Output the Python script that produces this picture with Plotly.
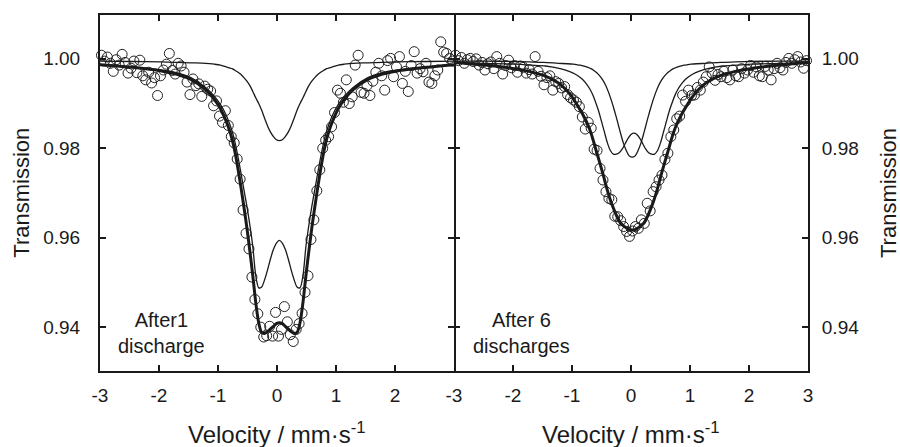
import plotly.graph_objects as go

FONT = "Liberation Sans, Arial, Helvetica, sans-serif"
INK = "#1a1a1a"

# ---------------- measured spectra (velocity channels, transmission) ----------------
velocity = [
    -2.975, -2.925, -2.875, -2.825, -2.775, -2.725, -2.675, -2.625, -2.575, -2.525,
    -2.475, -2.425, -2.375, -2.325, -2.275, -2.225, -2.175, -2.125, -2.075, -2.025,
    -1.975, -1.925, -1.875, -1.825, -1.775, -1.725, -1.675, -1.625, -1.575, -1.525,
    -1.475, -1.425, -1.375, -1.325, -1.275, -1.225, -1.175, -1.125, -1.075, -1.025,
    -0.975, -0.925, -0.875, -0.825, -0.775, -0.725, -0.675, -0.625, -0.575, -0.525,
    -0.475, -0.425, -0.375, -0.325, -0.275, -0.225, -0.175, -0.125, -0.075, -0.025,
    0.025, 0.075, 0.125, 0.175, 0.225, 0.275, 0.325, 0.375, 0.425, 0.475,
    0.525, 0.575, 0.625, 0.675, 0.725, 0.775, 0.825, 0.875, 0.925, 0.975,
    1.025, 1.075, 1.125, 1.175, 1.225, 1.275, 1.325, 1.375, 1.425, 1.475,
    1.525, 1.575, 1.625, 1.675, 1.725, 1.775, 1.825, 1.875, 1.925, 1.975,
    2.025, 2.075, 2.125, 2.175, 2.225, 2.275, 2.325, 2.375, 2.425, 2.475,
    2.525, 2.575, 2.625, 2.675, 2.725, 2.775, 2.825, 2.875, 2.925, 2.975,
]

data_after1 = [
    1.0008, 0.9995, 1.0004, 0.9990, 0.9972, 0.9998, 0.9986, 1.0010, 0.9992, 0.9968,
    0.9979, 0.9995, 0.9969, 0.9997, 0.9962, 0.9953, 0.9970, 0.9946, 0.9958, 0.9918,
    0.9962, 0.9975, 0.9988, 1.0012, 0.9974, 0.9966, 0.9990, 0.9984, 0.9970, 0.9948,
    0.9920, 0.9955, 0.9940, 0.9944, 0.9916, 0.9939, 0.9932, 0.9928, 0.9895, 0.9906,
    0.9872, 0.9858, 0.9884, 0.9851, 0.9826, 0.9812, 0.9776, 0.9731, 0.9662, 0.9610,
    0.9575, 0.9512, 0.9462, 0.9430, 0.9400, 0.9378, 0.9381, 0.9402, 0.9380, 0.9433,
    0.9380, 0.9395, 0.9446, 0.9412, 0.9383, 0.9368, 0.9395, 0.9408, 0.9431, 0.9478,
    0.9515, 0.9596, 0.9640, 0.9705, 0.9752, 0.9800, 0.9818, 0.9826, 0.9848, 0.9880,
    0.9930, 0.9923, 0.9903, 0.9953, 0.9900, 0.9915, 0.9986, 1.0008, 0.9925, 0.9923,
    0.9940, 0.9918, 0.9950, 0.9970, 0.9990, 0.9962, 0.9930, 0.9996, 1.0001, 0.9960,
    0.9982, 1.0005, 0.9945, 0.9972, 0.9927, 0.9985, 1.0016, 0.9968, 0.9978, 0.9971,
    0.9990, 0.9948, 0.9945, 0.9962, 0.9975, 1.0038, 1.0015, 1.0012, 1.0001, 0.9995,
]

data_after6 = [
    1.0008, 0.9996, 1.0003, 0.9990, 0.9998, 1.0001, 0.9994, 1.0000, 0.9986, 0.9992,
    0.9975, 0.9989, 0.9993, 0.9978, 1.0005, 0.9990, 0.9966, 0.9985, 0.9997, 0.9980,
    0.9985, 0.9970, 0.9984, 0.9981, 0.9968, 0.9976, 0.9966, 1.0005, 0.9972, 0.9961,
    0.9942, 0.9958, 0.9962, 0.9930, 0.9949, 0.9945, 0.9935, 0.9938, 0.9920, 0.9913,
    0.9908, 0.9903, 0.9893, 0.9870, 0.9843, 0.9858, 0.9845, 0.9798, 0.9795, 0.9755,
    0.9729, 0.9703, 0.9688, 0.9685, 0.9648, 0.9647, 0.9638, 0.9625, 0.9614, 0.9603,
    0.9615, 0.9625, 0.9621, 0.9640, 0.9632, 0.9677, 0.9660, 0.9703, 0.9714, 0.9729,
    0.9740, 0.9775, 0.9789, 0.9826, 0.9841, 0.9866, 0.9872, 0.9919, 0.9905, 0.9930,
    0.9918, 0.9919, 0.9936, 0.9930, 0.9948, 0.9960, 0.9982, 0.9968, 0.9952, 0.9965,
    0.9960, 0.9972, 0.9958, 0.9953, 0.9975, 0.9962, 0.9960, 0.9978, 0.9968, 0.9975,
    0.9985, 0.9970, 0.9982, 0.9962, 0.9960, 0.9983, 0.9975, 0.9953, 0.9978, 0.9990,
    0.9980, 0.9975, 0.9992, 1.0001, 0.9990, 0.9998, 1.0005, 0.9993, 0.9979, 0.9996,
]

# ---------------- fitted curves, panel 1 (After 1 discharge) ----------------
fit_v_after1 = [
    -3.0, -2.46, -1.96, -1.71, -1.46, -1.21, -1.06, -0.96, -0.86, -0.81, -0.76, -0.71, -0.66,
    -0.61, -0.56, -0.51, -0.46, -0.41, -0.36, -0.31, -0.26, -0.21, -0.16, -0.11, -0.06, -0.01,
    0.04,
    0.09, 0.14, 0.19, 0.24, 0.29, 0.34, 0.39, 0.44, 0.49, 0.54, 0.59, 0.64, 0.69,
    0.74, 0.79, 0.84, 0.89, 0.94, 1.04, 1.14, 1.29, 1.54, 1.79, 2.04, 2.54, 3.0,
]
fit_total_after1 = [
    0.9987, 0.9981, 0.9973, 0.9966, 0.9954, 0.9931, 0.9909, 0.9889, 0.9860, 0.9842, 0.9820, 0.9790, 0.9753,
    0.9712, 0.9668, 0.9622, 0.9570, 0.9515, 0.9455, 0.9410, 0.9388, 0.9386, 0.9390, 0.9396, 0.9402, 0.9408,
    0.9410,
    0.9408, 0.9402, 0.9396, 0.9390, 0.9386, 0.9388, 0.9410, 0.9455, 0.9515, 0.9570, 0.9622, 0.9668, 0.9712,
    0.9753, 0.9790, 0.9820, 0.9842, 0.9860, 0.9889, 0.9909, 0.9931, 0.9954, 0.9966, 0.9973, 0.9981, 0.9987,
]
fit_singlet_after1 = [
    0.9995, 0.9994, 0.9993, 0.9992, 0.9991, 0.9990, 0.9988, 0.9986, 0.9982, 0.9980, 0.9978, 0.9974, 0.9970,
    0.9965, 0.9958, 0.9950, 0.9940, 0.9927, 0.9913, 0.9900, 0.9885, 0.9867, 0.9850, 0.9836, 0.9826, 0.9819,
    0.9817,
    0.9819, 0.9826, 0.9836, 0.9850, 0.9867, 0.9885, 0.9900, 0.9913, 0.9927, 0.9940, 0.9950, 0.9958, 0.9965,
    0.9970, 0.9974, 0.9978, 0.9980, 0.9982, 0.9986, 0.9988, 0.9990, 0.9991, 0.9992, 0.9993, 0.9994, 0.9995,
]
fit_doublet_after1 = [
    0.9987, 0.9982, 0.9975, 0.9969, 0.9958, 0.9936, 0.9916, 0.9898, 0.9874, 0.9857, 0.9838, 0.9812, 0.9780,
    0.9744, 0.9707, 0.9670, 0.9628, 0.9580, 0.9515, 0.9488, 0.9490, 0.9506, 0.9528, 0.9553, 0.9574, 0.9588,
    0.9594,
    0.9588, 0.9574, 0.9553, 0.9528, 0.9506, 0.9490, 0.9488, 0.9515, 0.9580, 0.9628, 0.9670, 0.9707, 0.9744,
    0.9780, 0.9812, 0.9838, 0.9857, 0.9874, 0.9898, 0.9916, 0.9936, 0.9958, 0.9969, 0.9975, 0.9982, 0.9987,
]

# ---------------- fitted curves, panel 2 (After 6 discharges) ----------------
fit_v_after6 = [
    -3.0, -2.48, -1.98, -1.73, -1.48, -1.23, -1.08, -0.98, -0.88, -0.83, -0.78, -0.73, -0.68,
    -0.63, -0.58, -0.53, -0.48, -0.43, -0.38, -0.33, -0.28, -0.23, -0.18, -0.13, -0.08, -0.03,
    0.02,
    0.07, 0.12, 0.17, 0.22, 0.27, 0.32, 0.37, 0.42, 0.47, 0.52, 0.57, 0.62, 0.67,
    0.72, 0.77, 0.82, 0.87, 0.92, 1.02, 1.12, 1.27, 1.52, 1.77, 2.02, 2.52, 3.0,
]
fit_total_after6 = [
    0.9992, 0.9986, 0.9978, 0.9972, 0.9963, 0.9946, 0.9928, 0.9911, 0.9890, 0.9879, 0.9866, 0.9852, 0.9835,
    0.9813, 0.9790, 0.9768, 0.9745, 0.9720, 0.9697, 0.9677, 0.9660, 0.9645, 0.9633, 0.9627, 0.9622, 0.9618,
    0.9617,
    0.9618, 0.9622, 0.9627, 0.9633, 0.9645, 0.9660, 0.9677, 0.9697, 0.9720, 0.9745, 0.9768, 0.9790, 0.9813,
    0.9835, 0.9852, 0.9866, 0.9879, 0.9890, 0.9911, 0.9928, 0.9946, 0.9963, 0.9972, 0.9978, 0.9986, 0.9992,
]
fit_singlet_after6 = [
    0.9995, 0.9995, 0.9994, 0.9993, 0.9992, 0.9990, 0.9989, 0.9988, 0.9986, 0.9985, 0.9983, 0.9981, 0.9978,
    0.9974, 0.9969, 0.9962, 0.9953, 0.9941, 0.9925, 0.9906, 0.9884, 0.9860, 0.9835, 0.9812, 0.9795, 0.9783,
    0.9780,
    0.9783, 0.9795, 0.9812, 0.9835, 0.9860, 0.9884, 0.9906, 0.9925, 0.9941, 0.9953, 0.9962, 0.9969, 0.9974,
    0.9978, 0.9981, 0.9983, 0.9985, 0.9986, 0.9988, 0.9989, 0.9990, 0.9992, 0.9993, 0.9994, 0.9995, 0.9995,
]
fit_dv_after6 = [
    -3.0, -2.45, -1.95, -1.70, -1.45, -1.20, -1.05, -0.95, -0.85, -0.80, -0.75, -0.70, -0.65,
    -0.60, -0.55, -0.50, -0.45, -0.40, -0.35, -0.30, -0.25, -0.20, -0.15, -0.10, -0.05, 0.0,
    0.05,
    0.10, 0.15, 0.20, 0.25, 0.30, 0.35, 0.40, 0.45, 0.50, 0.55, 0.60, 0.65, 0.70,
    0.75, 0.80, 0.85, 0.90, 0.95, 1.05, 1.15, 1.30, 1.55, 1.80, 2.05, 2.55, 3.0,
]
fit_doublet_after6 = [
    0.9991, 0.9990, 0.9988, 0.9986, 0.9984, 0.9978, 0.9972, 0.9966, 0.9957, 0.9951, 0.9943, 0.9933, 0.9920,
    0.9903, 0.9884, 0.9860, 0.9836, 0.9812, 0.9795, 0.9787, 0.9787, 0.9790, 0.9798, 0.9810, 0.9822, 0.9831,
    0.9834,
    0.9831, 0.9822, 0.9810, 0.9798, 0.9790, 0.9787, 0.9787, 0.9795, 0.9812, 0.9836, 0.9860, 0.9884, 0.9903,
    0.9920, 0.9933, 0.9943, 0.9951, 0.9957, 0.9966, 0.9972, 0.9978, 0.9984, 0.9986, 0.9988, 0.9990, 0.9991,
]

# ---------------- axis ticks / labels ----------------
x_ticks = [-3, -2, -1, 0, 1, 2, 3]
x_labels_left = ["-3", "-2", "-1", "0", "1", "2", " "]
x_labels_right = ["-3", "-2", "-1", "0", "1", "2", "3"]
y_ticks = [0.94, 0.96, 0.98, 1.00]
y_labels = ["0.94", "0.96", "0.98", "1.00"]
y_range = [0.9302, 1.0098]
x_title = "Velocity / mm·s<sup>-1</sup>"
y_title = "Transmission"
panel_labels = ["After1<br>discharge", "After 6<br>discharges"]

fig = go.Figure()

marker_style = dict(symbol="circle-open", size=10, color="#222222", line=dict(width=1, color="#222222"))

panels = [
    ("x", "y", data_after1,
     [(fit_v_after1, fit_singlet_after1, 1.3), (fit_v_after1, fit_doublet_after1, 1.3),
      (fit_v_after1, fit_total_after1, 3.0)]),
    ("x2", "y2", data_after6,
     [(fit_v_after6, fit_singlet_after6, 1.3), (fit_dv_after6, fit_doublet_after6, 1.3),
      (fit_v_after6, fit_total_after6, 3.0)]),
]

for xa, ya, ydata, curves in panels:
    fig.add_trace(go.Scatter(x=velocity, y=ydata, mode="markers", marker=marker_style,
                             xaxis=xa, yaxis=ya, cliponaxis=False, showlegend=False))
    for cx, cy, w in curves:
        fig.add_trace(go.Scatter(x=cx, y=cy, mode="lines",
                                 line=dict(color=INK, width=w, shape="spline", smoothing=0.8),
                                 xaxis=xa, yaxis=ya, showlegend=False))

common_x = dict(range=[-3, 3], tickmode="array", tickvals=x_ticks, ticks="inside", ticklen=6,
                tickwidth=2, tickcolor=INK, showline=True, linewidth=2, linecolor=INK,
                mirror="ticks", showgrid=False, zeroline=False,
                tickfont=dict(family=FONT, size=19, color=INK), ticklabelstandoff=6)
common_y = dict(range=y_range, tickmode="array", tickvals=y_ticks, ticktext=y_labels,
                ticks="inside", ticklen=6, tickwidth=2, tickcolor=INK, showgrid=False,
                zeroline=False, tickfont=dict(family=FONT, size=19, color=INK))

fig.update_layout(
    width=900, height=447,
    margin=dict(l=100, r=92, t=15, b=76),
    paper_bgcolor="white", plot_bgcolor="white",
    font=dict(family=FONT, color=INK),
    xaxis=dict(domain=[0, 0.5], anchor="y", ticktext=x_labels_left, **common_x),
    xaxis2=dict(domain=[0.5, 1], anchor="y2", ticktext=x_labels_right, **common_x),
    # left panel: line on the left, mirrored line + ticks at the divider
    yaxis=dict(domain=[0, 1], anchor="x", side="left", ticklabelstandoff=14, showline=True,
               linewidth=2, linecolor=INK, mirror="ticks", **common_y),
    # right panel: line + labels on the right side only
    yaxis2=dict(domain=[0, 1], anchor="x2", side="right", ticklabelstandoff=8, showline=True,
                linewidth=2, linecolor=INK, mirror=False, **common_y),
    # ticks only (no line) pointing into the right panel at the divider
    yaxis3=dict(overlaying="y2", anchor="x2", side="left", showline=False, mirror=False,
                showticklabels=False, **common_y),
    annotations=[
        dict(text=x_title, xref="paper", yref="paper", x=0.25, y=-0.175, xanchor="center",
             yanchor="middle", showarrow=False, font=dict(family=FONT, size=24, color=INK)),
        dict(text=x_title, xref="paper", yref="paper", x=0.75, y=-0.175, xanchor="center",
             yanchor="middle", showarrow=False, font=dict(family=FONT, size=24, color=INK)),
        dict(text=y_title, xref="paper", yref="paper", x=-0.112, y=0.5, textangle=-90,
             xanchor="center", yanchor="middle", showarrow=False,
             font=dict(family=FONT, size=22, color=INK)),
        dict(text=y_title, xref="paper", yref="paper", x=1.113, y=0.5, textangle=-90,
             xanchor="center", yanchor="middle", showarrow=False,
             font=dict(family=FONT, size=22, color=INK)),
        dict(text=panel_labels[0], xref="x", yref="y", x=-1.95, y=0.9387, xanchor="center",
             yanchor="middle", showarrow=False, align="center",
             font=dict(family=FONT, size=20, color=INK)),
        dict(text=panel_labels[1], xref="x2", yref="y2", x=-1.86, y=0.9387, xanchor="center",
             yanchor="middle", showarrow=False, align="center",
             font=dict(family=FONT, size=20, color=INK)),
    ],
)

# invisible anchor trace so the tick-only axis at the divider is drawn
fig.add_trace(go.Scatter(x=[None], y=[None], xaxis="x2", yaxis="y3", showlegend=False,
                         hoverinfo="skip"))

fig.write_html("out.html", config={"displayModeBar": False},
               post_script="document.body.style.margin='0';")
